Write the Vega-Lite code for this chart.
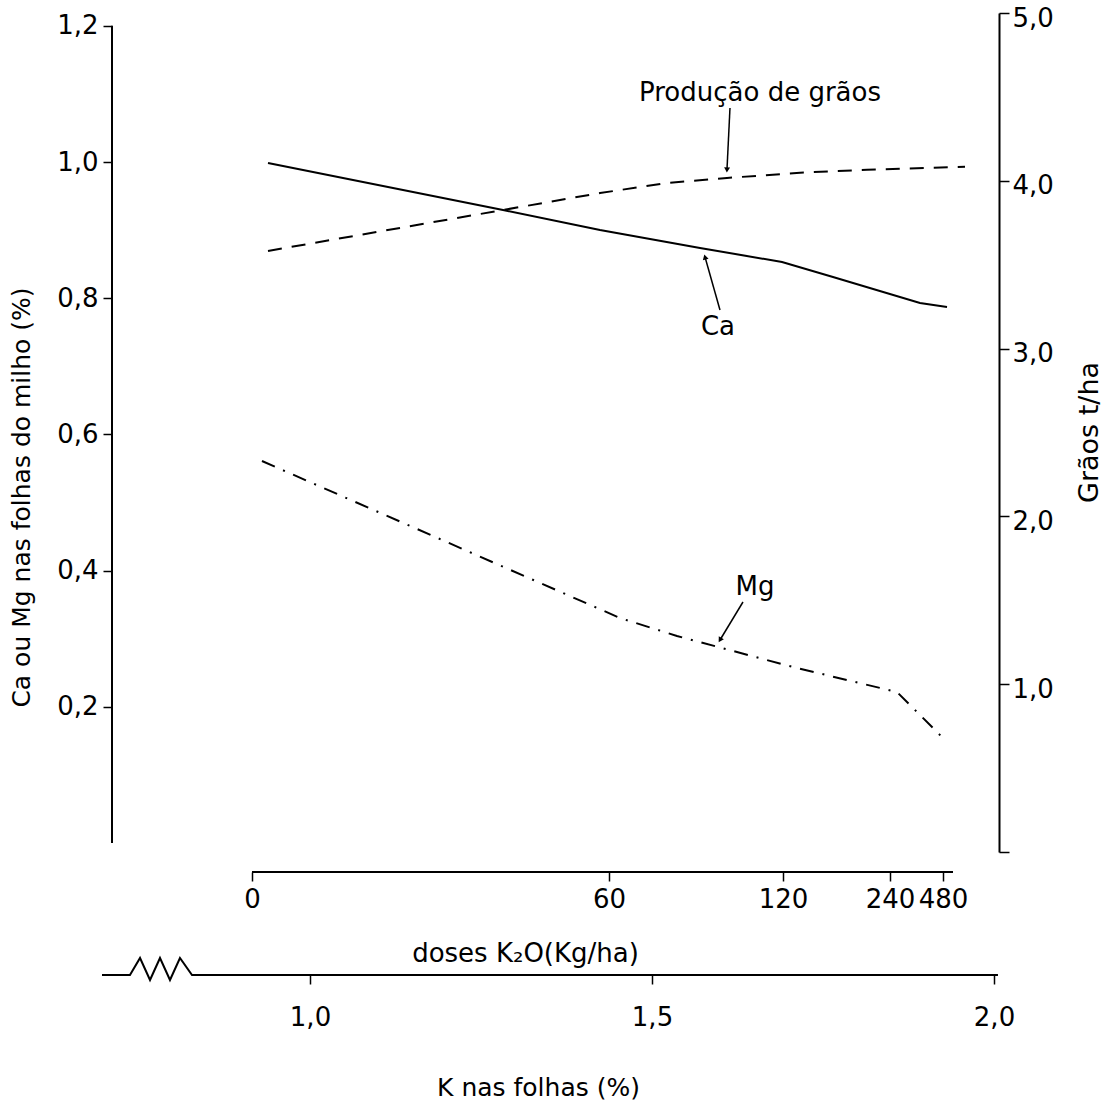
{
  "$schema": "https://vega.github.io/schema/vega-lite/v6.json",
  "width": 887,
  "height": 839,
  "autosize": {"type": "none"},
  "padding": {"left": 112, "top": 13, "right": 108, "bottom": 251},
  "background": "white",
  "config": {
    "view": {"stroke": null},
    "font": "DejaVu Sans",
    "axis": {
      "grid": false,
      "domainColor": "black",
      "tickColor": "black",
      "labelColor": "black",
      "titleColor": "black",
      "labelFont": "DejaVu Sans",
      "titleFont": "DejaVu Sans",
      "labelFontSize": 26,
      "titleFontSize": 25,
      "titleFontWeight": "normal",
      "tickWidth": 1.5,
      "domainWidth": 2,
      "labelFlush": false,
      "labelOverlap": false,
      "labelBound": false
    }
  },
  "datasets": {
    "ca": [
      {"k": 0.9386, "v": 0.9985},
      {"k": 1.2822, "v": 0.9295},
      {"k": 1.424, "v": 0.9},
      {"k": 1.5702, "v": 0.8737},
      {"k": 1.6901, "v": 0.8532},
      {"k": 1.7646, "v": 0.8311},
      {"k": 1.8918, "v": 0.793},
      {"k": 1.9313, "v": 0.7871}
    ],
    "prod": [
      {"k": 0.9386, "g": 3.582},
      {"k": 1.2822, "g": 3.826},
      {"k": 1.424, "g": 3.927},
      {"k": 1.5219, "g": 3.987},
      {"k": 1.6096, "g": 4.017},
      {"k": 1.7164, "g": 4.048},
      {"k": 1.8143, "g": 4.066},
      {"k": 1.9576, "g": 4.084}
    ],
    "mg": [
      {"k": 0.9298, "v": 0.5609},
      {"k": 1.4532, "v": 0.3304},
      {"k": 1.5365, "v": 0.304},
      {"k": 1.7061, "v": 0.2584},
      {"k": 1.8582, "v": 0.2217},
      {"k": 1.9254, "v": 0.1542}
    ],
    "labels": [
      {"k": 1.6579, "v": 1.1013, "text": "Produção de grãos"},
      {"k": 1.5965, "v": 0.7577, "text": "Ca"},
      {"k": 1.6506, "v": 0.3759, "text": "Mg"}
    ],
    "arrows": [
      {"name": "prod", "k1": 1.614, "v1": 1.0793, "k2": 1.6096, "v2": 0.9883},
      {"name": "ca", "k1": 1.5994, "v1": 0.7827, "k2": 1.5775, "v2": 0.8605},
      {"name": "mg", "k1": 1.633, "v1": 0.3539, "k2": 1.5994, "v2": 0.2981}
    ],
    "kline": [
      {"k": 0.6959, "v": -0.1938},
      {"k": 0.7368, "v": -0.1938},
      {"k": 0.7515, "v": -0.1689},
      {"k": 0.7661, "v": -0.2012},
      {"k": 0.7807, "v": -0.1689},
      {"k": 0.7953, "v": -0.2012},
      {"k": 0.8099, "v": -0.1689},
      {"k": 0.8275, "v": -0.1938},
      {"k": 2.0058, "v": -0.1938}
    ]
  },
  "layer": [
    {
      "data": {"name": "ca"},
      "mark": {"type": "line", "color": "black", "strokeWidth": 2},
      "encoding": {
        "x": {
          "field": "k", "type": "quantitative",
          "scale": {"domain": [0.71053, 2.00731], "nice": false, "zero": false},
          "axis": {
            "orient": "bottom", "offset": 20, "domain": false,
            "values": [0.9152, 1.43713, 1.69152, 1.84795, 1.92544],
            "labelExpr": "datum.value < 1 ? '0' : datum.value < 1.5 ? '60' : datum.value < 1.75 ? '120' : datum.value < 1.9 ? '240' : '480'",
            "tickSize": 9, "labelPadding": 5,
            "title": "doses K₂O(Kg/ha)", "titleFontSize": 26, "titleX": 413, "titleY": 81, "titleBaseline": "middle", "titleAlign": "center", "titleAngle": 0
          }
        },
        "y": {
          "field": "v", "type": "quantitative",
          "scale": {"domain": [-0.01322, 1.2188], "nice": false, "zero": false},
          "axis": {
            "orient": "left", "domain": false,
            "values": [0.2, 0.4, 0.6, 0.8, 1.0, 1.2],
            "labelExpr": "replace(format(datum.value, '.1f'), '.', ',')",
            "tickSize": 9, "labelPadding": 5,
            "title": "Ca ou Mg nas folhas do milho (%)", "titleX": -91, "titleY": 484, "titleAngle": 270, "titleBaseline": "middle", "titleAlign": "center"
          }
        }
      }
    },
    {
      "data": {"name": "mg"},
      "mark": {"type": "line", "color": "black", "strokeWidth": 2, "strokeDash": [14, 9, 2, 9]},
      "encoding": {
        "x": {
          "field": "k", "type": "quantitative",
          "scale": {"domain": [0.71053, 2.00731], "nice": false, "zero": false},
          "axis": {
            "orient": "bottom", "offset": 123, "domain": false,
            "values": [1.0, 1.5, 2.0],
            "labelExpr": "replace(format(datum.value, '.1f'), '.', ',')",
            "tickSize": 9, "labelPadding": 20,
            "title": "K nas folhas (%)", "titleX": 426, "titleY": 112, "titleBaseline": "middle", "titleAlign": "center", "titleAngle": 0
          }
        },
        "y": {
          "field": "v", "type": "quantitative",
          "scale": {"domain": [-0.01322, 1.2188], "nice": false, "zero": false},
          "axis": null
        }
      }
    },
    {
      "data": {"name": "prod"},
      "mark": {"type": "line", "color": "black", "strokeWidth": 2, "strokeDash": [14, 10]},
      "encoding": {
        "x": {
          "field": "k", "type": "quantitative",
          "scale": {"domain": [0.71053, 2.00731], "nice": false, "zero": false},
          "axis": null
        },
        "y": {
          "field": "g", "type": "quantitative",
          "scale": {"domain": [0, 5], "nice": false, "zero": false},
          "axis": {
            "orient": "right", "domain": true,
            "values": [0, 1, 2, 3, 4, 5],
            "labelExpr": "datum.value == 0 ? '' : replace(format(datum.value, '.1f'), '.', ',')",
            "tickSize": 10, "labelPadding": 3, "labelOffset": 5,
            "title": "Grãos  t/ha", "titleFontSize": 27, "titleX": 90, "titleY": 419, "titleAngle": 270, "titleBaseline": "middle", "titleAlign": "center"
          }
        }
      }
    },
    {
      "data": {"name": "labels"},
      "mark": {"type": "text", "color": "black", "font": "DejaVu Sans", "fontSize": 26, "align": "center", "baseline": "middle"},
      "encoding": {
        "x": {"field": "k", "type": "quantitative", "scale": {"domain": [0.71053, 2.00731], "nice": false, "zero": false}, "axis": null},
        "y": {"field": "v", "type": "quantitative", "scale": {"domain": [-0.01322, 1.2188], "nice": false, "zero": false}, "axis": null},
        "text": {"field": "text"}
      }
    },
    {
      "data": {"name": "arrows"},
      "mark": {"type": "rule", "color": "black", "strokeWidth": 1.5},
      "encoding": {
        "x": {"field": "k1", "type": "quantitative", "scale": {"domain": [0.71053, 2.00731], "nice": false, "zero": false}, "axis": null},
        "y": {"field": "v1", "type": "quantitative", "scale": {"domain": [-0.01322, 1.2188], "nice": false, "zero": false}, "axis": null},
        "x2": {"field": "k2"},
        "y2": {"field": "v2"}
      }
    },
    {
      "data": {"name": "arrows"},
      "transform": [{"filter": "datum.name == 'prod'"}],
      "mark": {"type": "point", "shape": "triangle-down", "filled": true, "color": "black", "size": 35, "angle": 3, "opacity": 1},
      "encoding": {
        "x": {"field": "k2", "type": "quantitative", "scale": {"domain": [0.71053, 2.00731], "nice": false, "zero": false}, "axis": null},
        "y": {"field": "v2", "type": "quantitative", "scale": {"domain": [-0.01322, 1.2188], "nice": false, "zero": false}, "axis": null}
      }
    },
    {
      "data": {"name": "arrows"},
      "transform": [{"filter": "datum.name == 'ca'"}],
      "mark": {"type": "point", "shape": "triangle-up", "filled": true, "color": "black", "size": 35, "angle": -16, "opacity": 1},
      "encoding": {
        "x": {"field": "k2", "type": "quantitative", "scale": {"domain": [0.71053, 2.00731], "nice": false, "zero": false}, "axis": null},
        "y": {"field": "v2", "type": "quantitative", "scale": {"domain": [-0.01322, 1.2188], "nice": false, "zero": false}, "axis": null}
      }
    },
    {
      "data": {"name": "arrows"},
      "transform": [{"filter": "datum.name == 'mg'"}],
      "mark": {"type": "point", "shape": "triangle-down", "filled": true, "color": "black", "size": 35, "angle": 31, "opacity": 1},
      "encoding": {
        "x": {"field": "k2", "type": "quantitative", "scale": {"domain": [0.71053, 2.00731], "nice": false, "zero": false}, "axis": null},
        "y": {"field": "v2", "type": "quantitative", "scale": {"domain": [-0.01322, 1.2188], "nice": false, "zero": false}, "axis": null}
      }
    },
    {
      "data": {"values": [{}]},
      "mark": {"type": "rule", "color": "black", "strokeWidth": 2},
      "encoding": {
        "x": {"datum": 0.71053, "type": "quantitative", "scale": {"domain": [0.71053, 2.00731], "nice": false, "zero": false}, "axis": null},
        "y": {"datum": 0, "type": "quantitative", "scale": {"domain": [-0.01322, 1.2188], "nice": false, "zero": false}, "axis": null},
        "y2": {"datum": 1.2}
      }
    },
    {
      "data": {"values": [{}]},
      "mark": {"type": "rule", "color": "black", "strokeWidth": 2},
      "encoding": {
        "x": {"datum": 0.9152, "type": "quantitative", "scale": {"domain": [0.71053, 2.00731], "nice": false, "zero": false}, "axis": null},
        "x2": {"datum": 1.94006},
        "y": {"datum": -0.04258, "type": "quantitative", "scale": {"domain": [-0.01322, 1.2188], "nice": false, "zero": false}, "axis": null}
      }
    },
    {
      "data": {"name": "kline"},
      "mark": {"type": "line", "color": "black", "strokeWidth": 2},
      "encoding": {
        "x": {"field": "k", "type": "quantitative", "scale": {"domain": [0.71053, 2.00731], "nice": false, "zero": false}, "axis": null},
        "y": {"field": "v", "type": "quantitative", "scale": {"domain": [-0.01322, 1.2188], "nice": false, "zero": false}, "axis": null}
      }
    }
  ],
  "resolve": {"scale": {"y": "independent"}, "axis": {"x": "independent", "y": "independent"}}
}
